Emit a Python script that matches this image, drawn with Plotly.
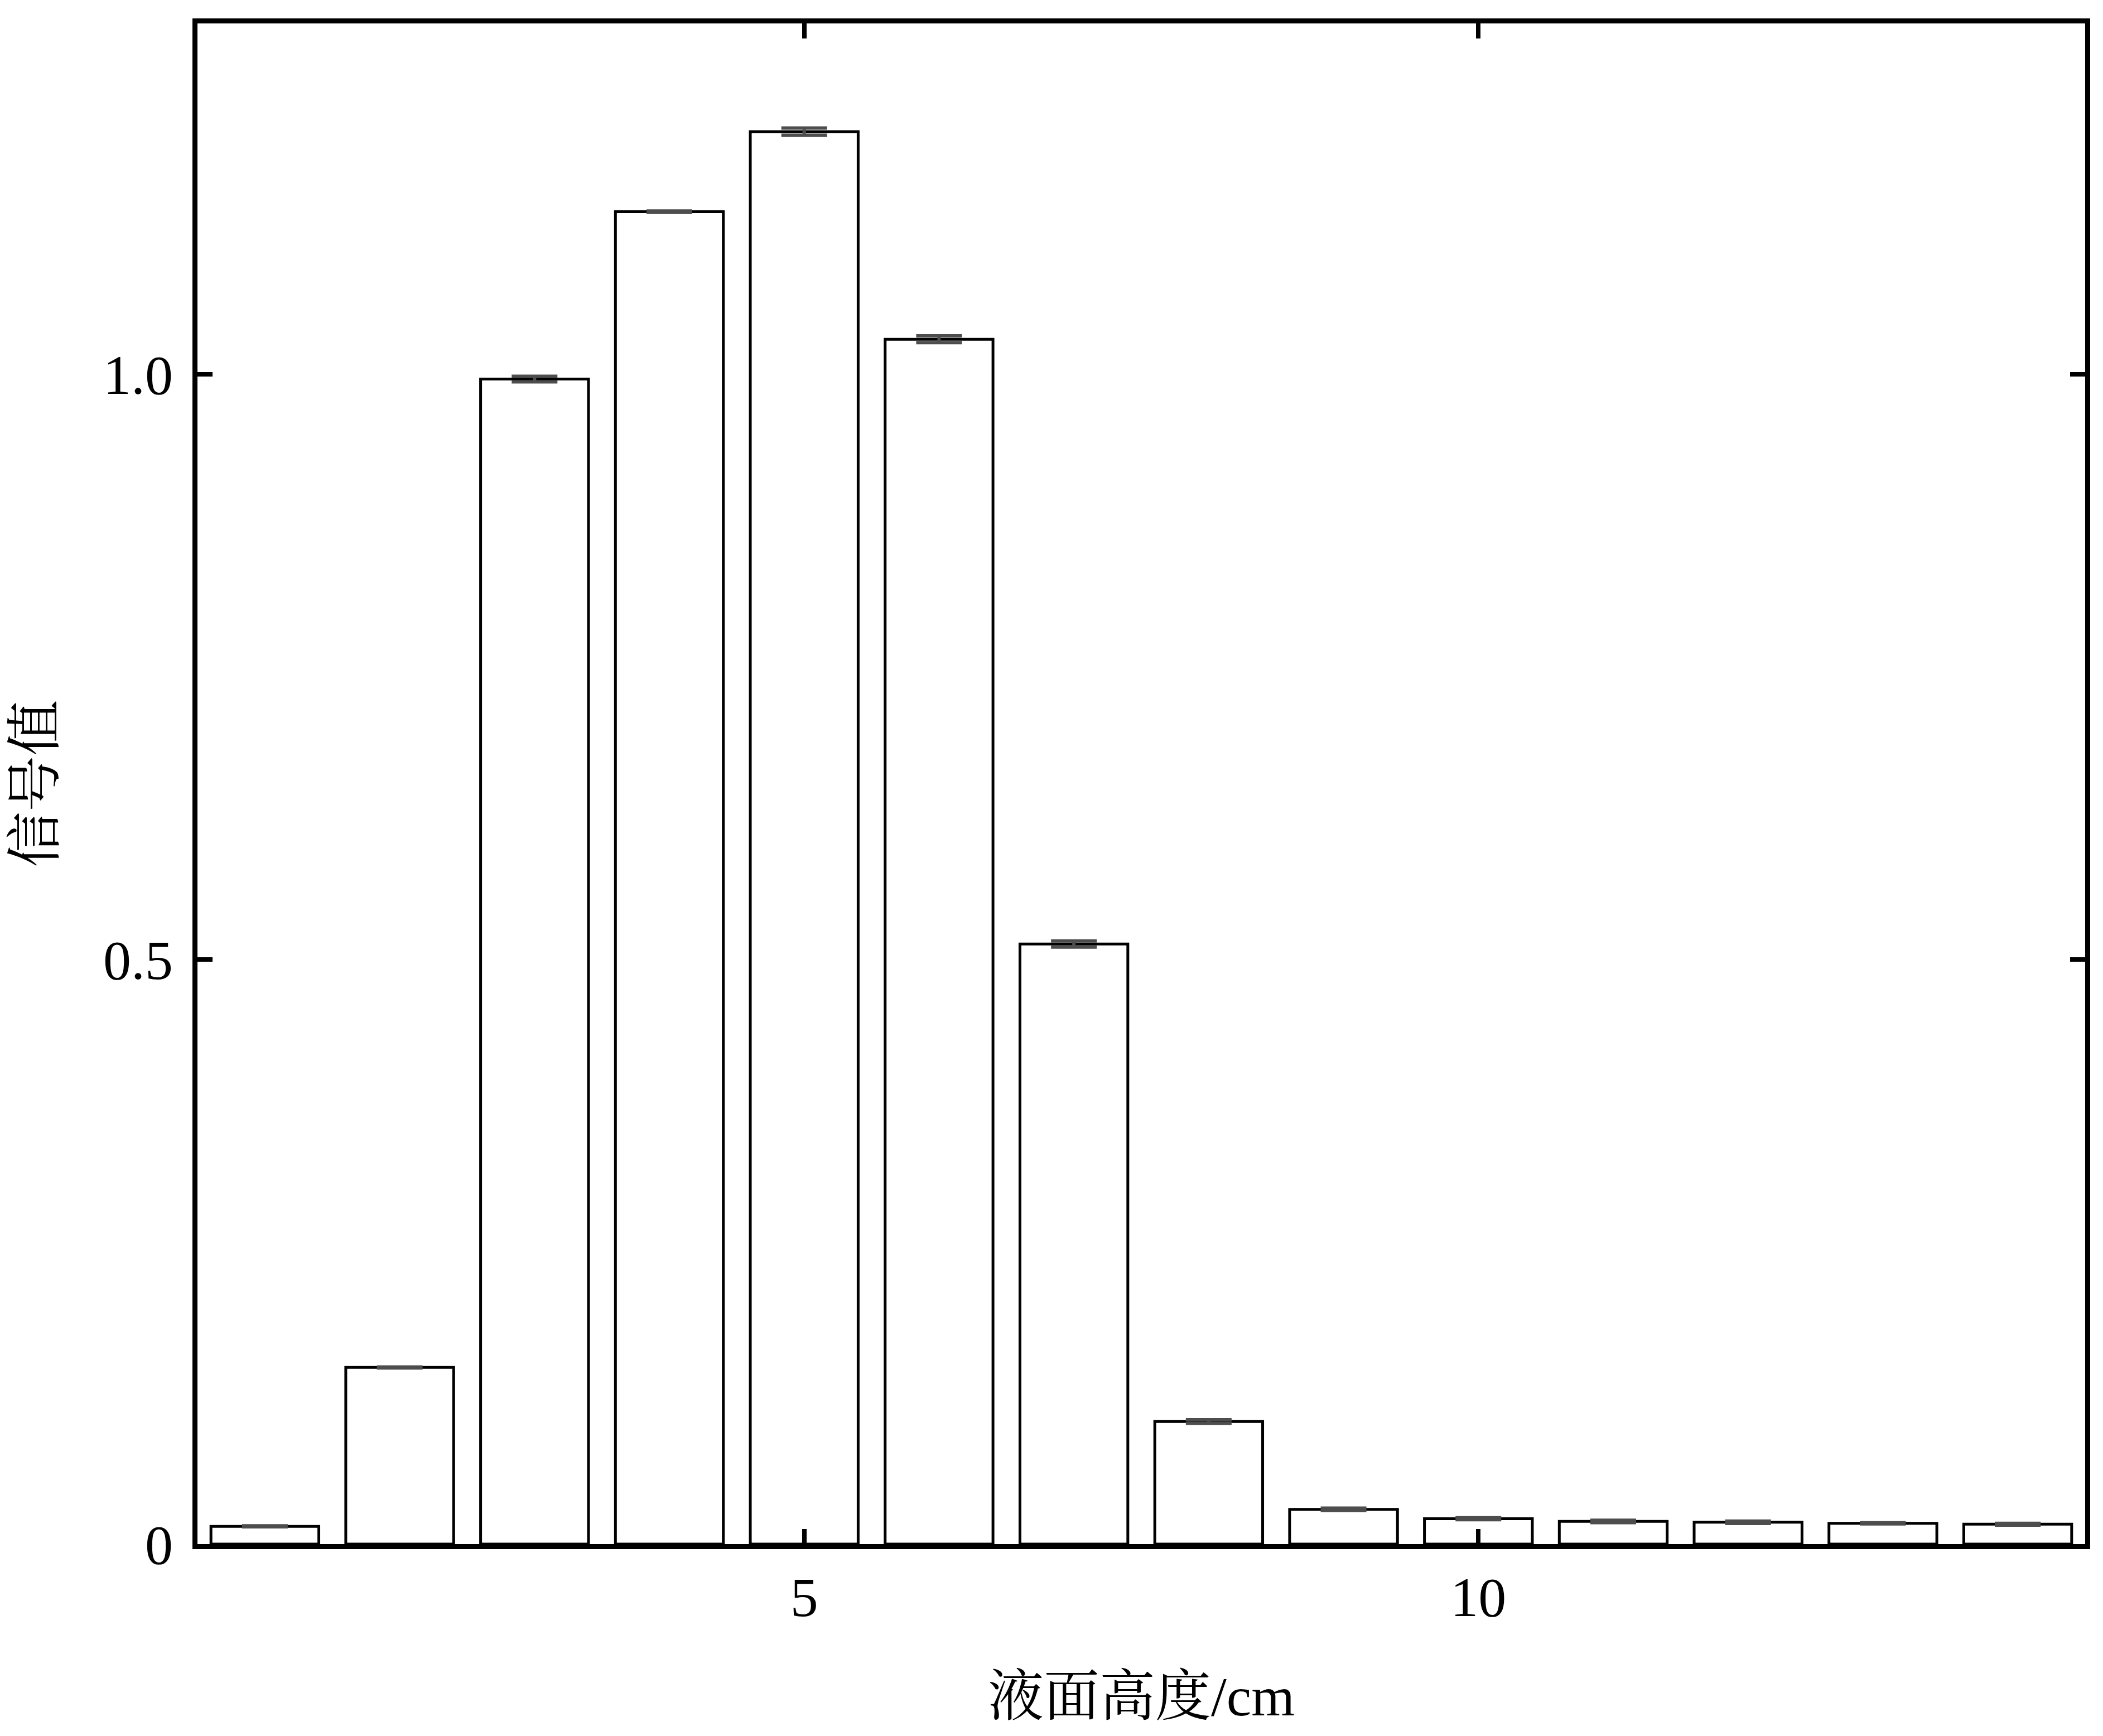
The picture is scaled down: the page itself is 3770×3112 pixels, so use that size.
import plotly.graph_objects as go

# liquid level (cm) vs. signal value
heights = list(range(1, 15))
signal = [0.0152, 0.151, 0.996, 1.139, 1.2075, 1.030, 0.513, 0.1048,
          0.0297, 0.0217, 0.0194, 0.0187, 0.0178, 0.0170]
errors = [0.0004, 0.0004, 0.0024, 0.0006, 0.0031, 0.0029, 0.0026, 0.0016,
          0.0010, 0.0008, 0.0010, 0.0010, 0.0005, 0.0008]

x_ticks = [5, 10]
y_ticks = [0, 0.5, 1.0]
y_tick_labels = ["0", "0.5", "1.0"]

FONT = "Liberation Serif, 'Noto Serif CJK SC', 'Noto Sans CJK SC', serif"

fig = go.Figure()

fig.add_trace(go.Bar(
    x=heights,
    y=signal,
    width=0.8,
    marker=dict(color="white", line=dict(color="black", width=5)),
    error_y=dict(type="data", array=errors, visible=True,
                 color="rgb(77,77,77)", thickness=6, width=41),
    showlegend=False,
))

axis_common = dict(
    showline=True, linecolor="black", linewidth=9, mirror="ticks",
    ticks="inside", ticklen=27, tickwidth=8, tickcolor="black",
    showgrid=False, zeroline=False,
    tickfont=dict(family=FONT, size=100, color="black"),
)

fig.update_xaxes(
    range=[0.5, 14.5], tickvals=x_ticks,
    title=dict(text="液面高度/cm", font=dict(family=FONT, size=100, color="black"),
               standoff=90),
    ticklabelstandoff=0,
    **axis_common,
)
fig.update_yaxes(
    range=[0, 1.3], tickvals=y_ticks, ticktext=y_tick_labels,
    title=dict(text="信号值", font=dict(family=FONT, size=100, color="black"),
               standoff=60),
    ticklabelstandoff=15,
    **axis_common,
)

fig.update_layout(
    width=3770, height=3112,
    margin=dict(l=346, r=40, t=34, b=352),
    plot_bgcolor="white", paper_bgcolor="white",
    bargap=0.2,
)

fig.write_html("out.html")
